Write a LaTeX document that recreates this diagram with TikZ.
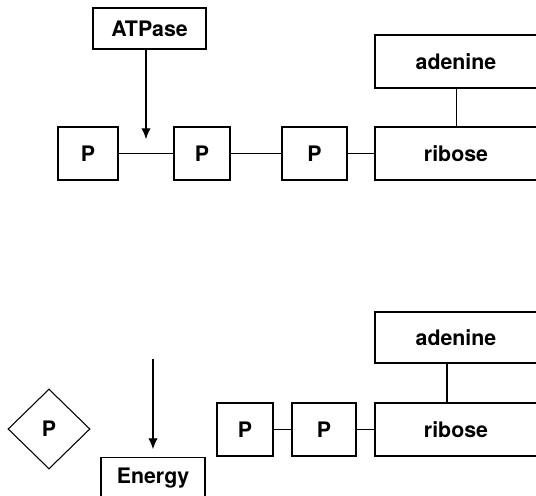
\documentclass[tikz,border=0pt]{standalone}
\usepackage{fontspec}
\setmainfont{TeX Gyre Heros}
\usetikzlibrary{shapes.geometric,arrows.meta}
\tikzset{
  box/.style={draw,line width=0.8pt,rectangle,inner sep=0pt,text height=11.5pt,text depth=0pt,font=\fontsize{16}{19}\selectfont\bfseries},
  link/.style={line width=0.6pt},
  push/.style={line width=0.8pt,-{Latex[length=8pt,width=7pt]}}
}
\begin{document}
\begin{tikzpicture}[x=0.75pt,y=-0.75pt]
\useasboundingbox (0,0) rectangle (536,496);
\clip (0,0) rectangle (536,496);

% ATP
\node[box,minimum width=84.75pt,minimum height=30.75pt] (atpase) at (149.5,28.5) {ATPase};
\node[box,minimum width=45pt,minimum height=39.75pt] (p1) at (88,153.5) {P};
\node[box,minimum width=42pt,minimum height=39.75pt] (p2) at (202,153.5) {P};
\node[box,minimum width=48.75pt,minimum height=39.75pt] (p3) at (314.5,153.5) {P};
\node[box,minimum width=121.5pt,minimum height=39.75pt] (ribose) at (456,153.5) {ribose};
\node[box,minimum width=121.5pt,minimum height=39.75pt] (adenine) at (456,61.5) {adenine};
\coordinate (tip) at (146,139);
\draw[link] (p1) -- (p2);
\draw[link] (p2) -- (p3);
\draw[link] (p3) -- (ribose);
\draw[link] (adenine) -- (ribose);
\draw[push] (atpase.south -| tip) -- (tip);

% ADP + P + energy
\node[draw,line width=0.8pt,diamond,inner sep=0pt,minimum width=61.5pt,minimum height=60pt,font=\fontsize{16}{19}\selectfont\bfseries] (pfree) at (49,429) {P};
\node[box,minimum width=42pt,minimum height=39.75pt] (q1) at (245,429.5) {P};
\node[box,minimum width=48pt,minimum height=39.75pt] (q2) at (324,429.5) {P};
\node[box,minimum width=121.5pt,minimum height=39.75pt] (ribose2) at (456,429.5) {ribose};
\node[box,minimum width=121.5pt,minimum height=38.25pt] (adenine2) at (456,337.5) {adenine};
\node[box,anchor=north,minimum width=78pt,inner ysep=7.5pt,text height=12pt,text depth=25pt] (energy) at (153,457) {Energy};
\coordinate (start) at (153,359);
\draw[link] (q1) -- (q2);
\draw[link] (q2) -- (ribose2);
\draw[line width=0.8pt] ([xshift=-6.75pt]adenine2.south) -- ([xshift=-6.75pt]ribose2.north);
\draw[push,shorten >=6pt] (start) -- (energy.north);
\end{tikzpicture}
\end{document}
